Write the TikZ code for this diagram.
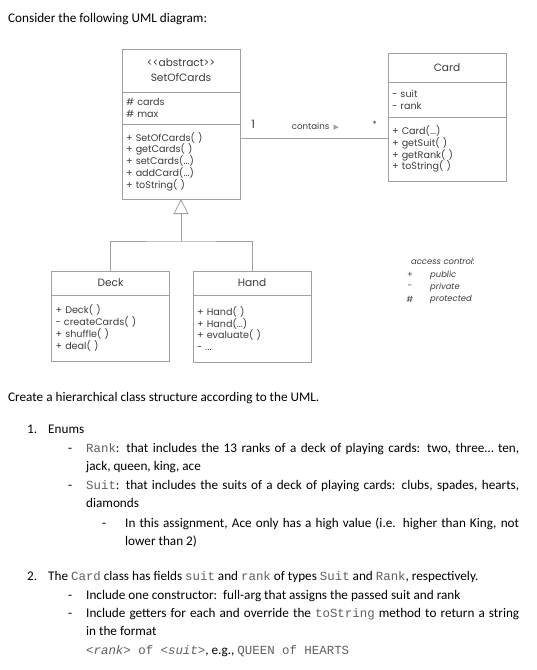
\documentclass[tikz,border=0pt]{standalone}
\usepackage{fontspec}
\setmainfont{Carlito}
\setmonofont{Liberation Mono}[Scale=0.94]
\newfontfamily\umlfont{Poppins}
\newfontfamily\symfont{DejaVu Sans}
\usetikzlibrary{arrows.meta, positioning}
\definecolor{umlline}{RGB}{160,160,160}
\definecolor{umltext}{RGB}{60,60,60}
\definecolor{codegray}{RGB}{95,95,95}
\newcommand{\code}[1]{{\ttfamily\color{codegray}#1}}

\tikzset{
  compart/.style={draw=umlline, line width=0.8pt, outer sep=0pt, inner xsep=4pt, inner ysep=0pt,
    text width=110pt, align=left, text=umltext, font=\umlfont\fontsize{9.6}{11.8}\selectfont},
  classname/.style={compart, align=center, font=\umlfont\fontsize{10.6}{15}\selectfont},
  assoclabel/.style={inner sep=0pt, text=umltext, font=\umlfont\fontsize{8.6}{10}\selectfont},
  legendtext/.style={inner sep=0pt, anchor=west, text=umltext, font=\umlfont\itshape\fontsize{8.4}{10}\selectfont},
  legendsym/.style={inner sep=0pt, text=umltext, font=\umlfont\fontsize{8.4}{10}\selectfont},
  umledge/.style={draw=umlline, line width=0.8pt},
  bodytext/.style={anchor=base west, inner sep=0pt, font=\fontsize{13.2}{18.7}\selectfont},
  para/.style={bodytext, align=justify},
}

\begin{document}
\begin{tikzpicture}[x=1pt, y=-1pt]
  \useasboundingbox (0,0) rectangle (537,670);
  \fill[white] (0,0) rectangle (537,670);

  \node[bodytext] (intro) at (8,22) {Consider the following UML diagram:};

  % abstract class
  \node[classname, minimum height=43pt] (soctitle) at (181,70.5) {<\kern0pt<abstract>\kern0pt>\\SetOfCards};
  \node[compart, minimum height=32pt, below=0pt of soctitle] (socattr) {\# cards\\\# max};
  \node[compart, minimum height=75pt, below=0pt of socattr] (socops)
    {+ SetOfCards( )\\+ getCards( )\\+ setCards(...)\\+ addCard(...)\\+ toString( )};

  % card class
  \node[classname, minimum height=29pt] (cardtitle) at (447,67.5) {Card};
  \node[compart, minimum height=35pt, below=0pt of cardtitle] (cardattr) {- suit\\- rank};
  \node[compart, minimum height=64pt, below=0pt of cardattr] (cardops)
    {+ Card(...)\\+ getSuit( )\\+ getRank( )\\+ toString( )};

  % subclasses
  \node[classname, minimum height=24pt] (decktitle) at (110.5,283) {Deck};
  \node[compart, minimum height=66pt, below=0pt of decktitle] (deckops)
    {+ Deck( )\\- createCards( )\\+ shuffle( )\\+ deal( )};
  \node[classname, minimum height=24pt] (handtitle) at (252,283) {Hand};
  \node[compart, minimum height=67pt, below=0pt of handtitle] (handops)
    {+ Hand( )\\+ Hand(...)\\+ evaluate( )\\- ...};

  % association
  \draw[umledge] ([yshift=23.5pt]socops.east) -- ([yshift=23.5pt]socops.east -| cardops.west)
    node[assoclabel, pos=0.09, above=9pt, font=\umlfont\fontsize{11.5}{12}\selectfont] (multone) {1}
    node[assoclabel, pos=0.51, above=7pt] (contains) {contains\enspace{\symfont\color{umlline}\fontsize{7}{8}\selectfont▶}}
    node[assoclabel, pos=0.91, above=10pt] (multmany) {*};

  % inheritance
  \coordinate (split) at (181,241);
  \draw[umledge] (decktitle.north) |- (split) -| (handtitle.north);
  \draw[umledge, -{Triangle[open, length=15pt, width=15pt]}] (split) -- (socops.south);

  % legend
  \node[legendtext] (acctitle) at (411,261) {access control:};
  \node[legendsym] (pubsym) at (410,275) {+};
  \node[legendtext] (pubtext) at (430,275) {public};
  \node[legendsym] (privsym) at (410,287) {-};
  \node[legendtext] (privtext) at (430,287) {private};
  \node[legendsym] (protsym) at (410,299) {\#};
  \node[legendtext] (prottext) at (430,299) {protected};

  % task text
  \node[bodytext] (task) at (8,401) {Create a hierarchical class structure according to the UML.};
  \node[bodytext] (numone) at (27,433) {1.};
  \node[bodytext] (enums) at (48,433) {Enums};
  \node[bodytext] (dashrank) at (68,452) {-};
  \node[para, text width=433pt] (rank) at (86,452)
    {\code{Rank}: that includes the 13 ranks of a deck of playing cards: two, three… ten,\linebreak jack, queen, king, ace};
  \node[bodytext] (dashsuit) at (68,489) {-};
  \node[para, text width=433pt] (suit) at (86,489)
    {\code{Suit}: that includes the suits of a deck of playing cards: clubs, spades, hearts,\linebreak diamonds};
  \node[bodytext] (dashace) at (102,527) {-};
  \node[para, text width=394pt] (ace) at (125,527)
    {In this assignment, Ace only has a high value (i.e. higher than King, not\linebreak lower than 2)};
  \node[bodytext] (numtwo) at (27,580) {2.};
  \node[bodytext] (cardtask) at (48,580)
    {The \code{Card} class has fields \code{suit} and \code{rank} of types \code{Suit} and \code{Rank}, respectively.};
  \node[bodytext] (dashctor) at (68,599) {-};
  \node[bodytext] (ctor) at (86,599) {Include one constructor:\ \ full-arg that assigns the passed suit and rank};
  \node[bodytext] (dashget) at (68,617) {-};
  \node[para, text width=433pt] (getters) at (86,617)
    {Include getters for each and override the \code{toString} method to return a string\linebreak in the format\\
     \code{\textit{<rank>} of \textit{<suit>}}, e.g., \code{QUEEN of HEARTS}};
\end{tikzpicture}
\end{document}
